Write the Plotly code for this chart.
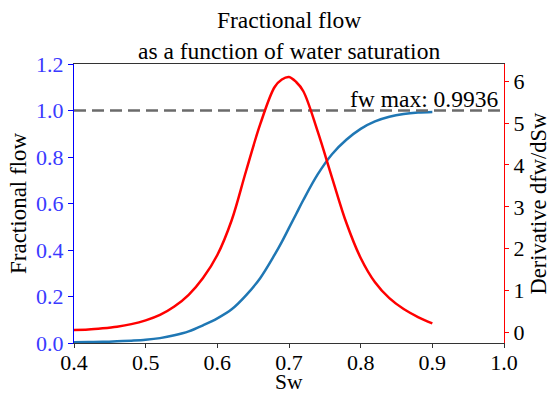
import plotly.graph_objects as go

# Data
sw = [0.40, 0.42, 0.44, 0.46, 0.48, 0.50, 0.52, 0.54, 0.56, 0.58, 0.60, 0.62, 0.64,
      0.66, 0.68, 0.69, 0.70, 0.71, 0.72, 0.74, 0.76, 0.78, 0.80, 0.82, 0.84, 0.86,
      0.88, 0.90]
fw = [0.003, 0.004, 0.005, 0.007, 0.010, 0.014, 0.021, 0.033, 0.050, 0.076, 0.106,
      0.145, 0.205, 0.280, 0.380, 0.435, 0.495, 0.555, 0.615, 0.725, 0.812, 0.874,
      0.921, 0.953, 0.973, 0.985, 0.991, 0.9936]
dfw = [0.06, 0.07, 0.10, 0.14, 0.20, 0.29, 0.42, 0.62, 0.90, 1.30, 1.85, 2.68, 3.85,
       4.98, 5.86, 6.04, 6.10, 5.98, 5.76, 4.80, 3.70, 2.62, 1.78, 1.20, 0.82, 0.56,
       0.37, 0.22]
fw_ref_x = [0.4, 1.0]
fw_ref_y = [1.0, 1.0]
fw_max = 0.9936
x_ticks = [0.4, 0.5, 0.6, 0.7, 0.8, 0.9, 1.0]
y_ticks = [0.0, 0.2, 0.4, 0.6, 0.8, 1.0, 1.2]
y2_ticks = [0, 1, 2, 3, 4, 5, 6]

FONT = "Liberation Serif, Times New Roman, serif"
BLUE_TXT = "#3a3aff"

fig = go.Figure()
fig.add_trace(go.Scatter(x=sw, y=fw, mode="lines", line=dict(color="#1f77b4", width=2.5, shape="spline"),
                         showlegend=False, yaxis="y"))
fig.add_trace(go.Scatter(x=fw_ref_x, y=fw_ref_y, mode="lines",
                         line=dict(color="#6b6b6b", width=2.5, dash="12px,6px"),
                         showlegend=False, yaxis="y"))
fig.add_trace(go.Scatter(x=sw, y=dfw, mode="lines", line=dict(color="red", width=2.5, shape="spline"),
                         showlegend=False, yaxis="y2"))

fig.update_layout(
    width=549, height=396,
    margin=dict(l=74, r=45, t=64, b=53),
    paper_bgcolor="white", plot_bgcolor="white",
    font=dict(family=FONT, size=22, color="black"),
    xaxis=dict(range=[0.4, 1.0], tickvals=x_ticks, tickformat=".1f", showgrid=False, zeroline=False,
               showline=True, linecolor="#333333", linewidth=1.2, mirror=True,
               ticks="outside", ticklen=4, tickcolor="#333333", ticklabelstandoff=-5,
               tickfont=dict(family=FONT, size=22, color="black")),
    yaxis=dict(range=[0, 1.2], tickvals=y_ticks, tickformat=".1f", showgrid=False, zeroline=False,
               showline=True, linecolor="blue", linewidth=1.2,
               ticks="outside", ticklen=5, tickcolor="blue",
               tickfont=dict(family=FONT, size=22, color=BLUE_TXT)),
    yaxis2=dict(range=[-0.25, 6.41], tickvals=y2_ticks, overlaying="y", side="right", showgrid=False,
                zeroline=False, showline=True, linecolor="red", linewidth=1.2,
                ticks="outside", ticklen=4, tickcolor="red",
                tickfont=dict(family=FONT, size=22, color="black")),
)

fig.add_annotation(text="Fractional flow<br>as a function of water saturation", xref="paper", yref="paper",
                   x=0.5, y=1, xanchor="center", yanchor="bottom", yshift=-2, showarrow=False,
                   font=dict(family=FONT, size=23.5, color="black"))
fig.add_annotation(text="Sw", xref="paper", yref="paper", x=0.5, y=0, xanchor="center", yanchor="bottom",
                   yshift=-53, showarrow=False, font=dict(family=FONT, size=21.5, color="black"))
fig.add_annotation(text="Fractional flow", xref="paper", yref="paper", x=0, y=0.5, xanchor="center",
                   yanchor="middle", xshift=-55.5, textangle=-90, showarrow=False,
                   font=dict(family=FONT, size=23, color="black"))
fig.add_annotation(text="Derivative dfw/dSw", xref="paper", yref="paper", x=1, y=0.5, xanchor="center",
                   yanchor="middle", xshift=34, textangle=-90, showarrow=False,
                   font=dict(family=FONT, size=22.5, color="black"))
fig.add_annotation(text=f"fw max: {fw_max:.4f}", xref="x", yref="y", x=0.888, y=1.0,
                   xanchor="center", yanchor="bottom", yshift=-3, showarrow=False,
                   font=dict(family=FONT, size=23.5, color="black"))

fig.write_html("out.html")
